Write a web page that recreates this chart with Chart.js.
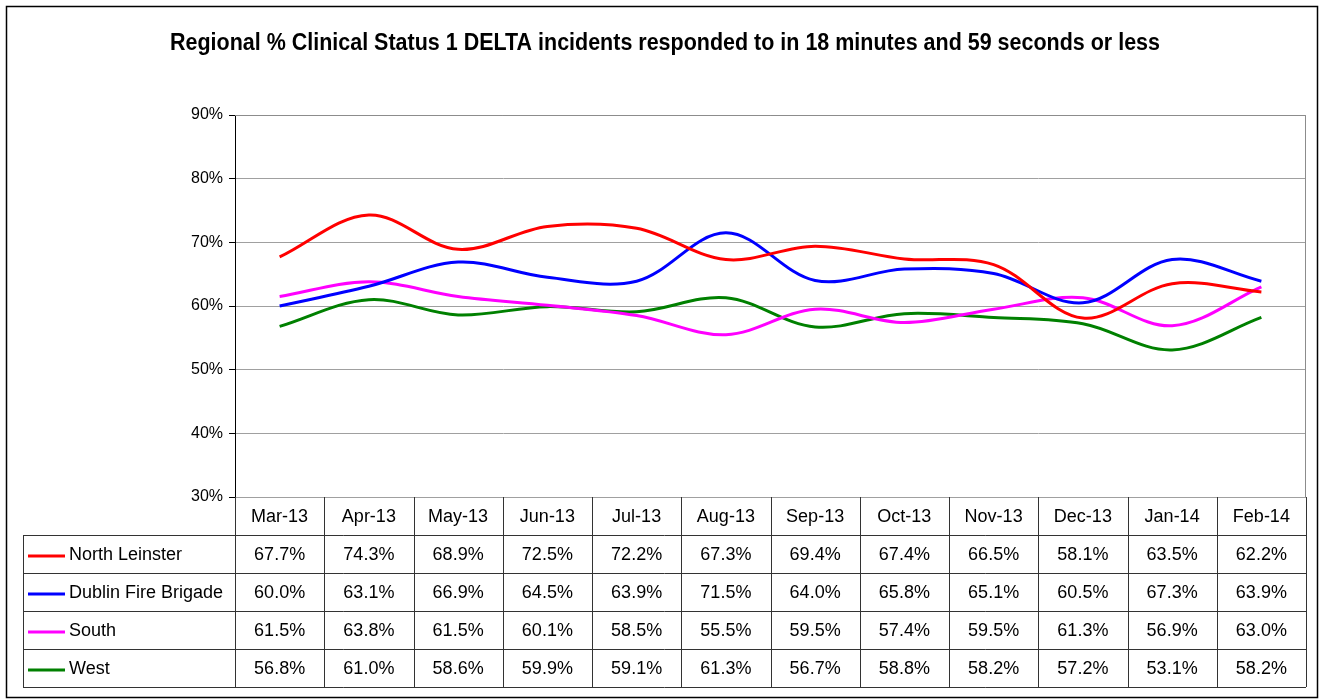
<!DOCTYPE html>
<html>
<head>
<meta charset="utf-8">
<script src="https://cdn.jsdelivr.net/npm/chart.js@4"></script>
<style>
  body { margin: 0; background: #fff; }
  #wrap { width: 1324px; height: 700px; }
</style>
</head>
<body>
<div id="wrap"><canvas id="deltaChart" width="1324" height="700"></canvas></div>
<script>
// Regional delta response data
const months = ['Mar-13', 'Apr-13', 'May-13', 'Jun-13', 'Jul-13', 'Aug-13', 'Sep-13', 'Oct-13', 'Nov-13', 'Dec-13', 'Jan-14', 'Feb-14'];
const northLeinster = [67.7, 74.3, 68.9, 72.5, 72.2, 67.3, 69.4, 67.4, 66.5, 58.1, 63.5, 62.2];
const dublinFire = [60.0, 63.1, 66.9, 64.5, 63.9, 71.5, 64.0, 65.8, 65.1, 60.5, 67.3, 63.9];
const south = [61.5, 63.8, 61.5, 60.1, 58.5, 55.5, 59.5, 57.4, 59.5, 61.3, 56.9, 63.0];
const west = [56.8, 61.0, 58.6, 59.9, 59.1, 61.3, 56.7, 58.8, 58.2, 57.2, 53.1, 58.2];
const seriesNames = ['North Leinster', 'Dublin Fire Brigade', 'South', 'West'];
const seriesColors = ['#ff0000', '#0000ff', '#ff00ff', '#008000'];
const yTicks = [30, 40, 50, 60, 70, 80, 90];

const titleText = 'Regional % Clinical Status 1 DELTA incidents responded to in 18 minutes and 59 seconds or less';
const FONT = '"Liberation Sans", Arial, sans-serif';

// draws border, title and the data table under the plot
const tablePlugin = {
    id: 'dataTable',
    afterDraw(chart) {
        const ctx = chart.ctx;
        const area = chart.chartArea;
        const xs = chart.scales.x;
        const rowH = 38;
        const tableLeft = 23;
        const n = months.length;
        const colW = (area.right - area.left) / n;

        ctx.save();

        // outer frame
        ctx.strokeStyle = '#000';
        ctx.lineWidth = 1.5;
        ctx.strokeRect(6.5, 6.5, 1311, 691);

        // title (squeezed to look like a narrow face)
        ctx.fillStyle = '#000';
        ctx.font = 'bold 23px "Liberation Sans Narrow", "Arial Narrow", ' + FONT;
        ctx.textAlign = 'center';
        ctx.textBaseline = 'middle';
        const tw = ctx.measureText(titleText).width;
        ctx.save();
        ctx.translate(665, 44);
        ctx.scale(990 / tw, 1);
        ctx.fillText(titleText, 0, 0);
        ctx.restore();

        // plot border (top/right)
        ctx.strokeStyle = '#8c8c8c';
        ctx.lineWidth = 1;
        ctx.beginPath();
        ctx.moveTo(area.left, area.top + 0.5);
        ctx.lineTo(area.right - 0.5, area.top + 0.5);
        ctx.lineTo(area.right - 0.5, area.bottom);
        ctx.stroke();

        const top = area.bottom;
        const bottom = top + rowH * (seriesNames.length + 1);

        // table grid
        ctx.strokeStyle = '#333';
        ctx.lineWidth = 1;
        ctx.beginPath();
        for (let r = 1; r <= seriesNames.length + 1; r++) {
            const y = Math.round(top + r * rowH) + 0.5;
            ctx.moveTo(tableLeft, y);
            ctx.lineTo(area.right, y);
        }
        ctx.moveTo(tableLeft + 0.5, top + rowH);
        ctx.lineTo(tableLeft + 0.5, bottom);
        for (let i = 0; i <= n; i++) {
            const x = Math.round(area.left + i * colW) + 0.5;
            ctx.moveTo(x, top);
            ctx.lineTo(x, bottom);
        }
        ctx.stroke();

        // header labels
        ctx.fillStyle = '#000';
        ctx.font = '18px ' + FONT;
        ctx.textAlign = 'center';
        ctx.textBaseline = 'middle';
        months.forEach((m, i) => {
            ctx.fillText(m, xs.getPixelForValue(i), top + rowH / 2 + 1);
        });

        // rows
        chart.data.datasets.forEach((ds, r) => {
            const cy = top + rowH * (r + 1) + rowH / 2 + 1;
            ctx.strokeStyle = ds.borderColor;
            ctx.lineWidth = 3;
            ctx.beginPath();
            ctx.moveTo(28, cy + 1);
            ctx.lineTo(65, cy + 1);
            ctx.stroke();
            ctx.textAlign = 'left';
            ctx.fillText(ds.label, 69, cy);
            ctx.textAlign = 'center';
            ds.data.forEach((v, i) => {
                ctx.fillText(v.toFixed(1) + '%', xs.getPixelForValue(i), cy);
            });
        });

        ctx.restore();
    }
};

const allSeries = [northLeinster, dublinFire, south, west];

new Chart(document.getElementById('deltaChart'), {
    type: 'line',
    data: {
        labels: months,
        datasets: allSeries.map((d, i) => ({
            label: seriesNames[i],
            data: d,
            borderColor: seriesColors[i],
            backgroundColor: seriesColors[i],
            borderWidth: 3,
            pointRadius: 0,
            tension: 0.35,
            fill: false,
        }))
    },
    options: {
        responsive: false,
        animation: false,
        layout: { padding: { left: 0, right: 18, top: 115, bottom: 203 } },
        plugins: {
            legend: { display: false },
            title: { display: false },
            tooltip: { enabled: false },
        },
        scales: {
            x: {
                display: false,
                offset: true,
            },
            y: {
                min: yTicks[0],
                max: yTicks[yTicks.length - 1],
                afterFit(scale) { scale.width = 235; },
                afterBuildTicks(scale) { scale.ticks = yTicks.map(v => ({ value: v })); },
                ticks: {
                    color: '#000',
                    font: { size: 16, family: 'Liberation Sans' },
                    padding: 6,
                    callback: v => v + '%',
                },
                grid: { color: '#a0a0a0', tickLength: 6, tickColor: '#000' },
                border: { color: '#000', width: 1 },
            }
        }
    },
    plugins: [tablePlugin]
});
</script>
</body>
</html>
